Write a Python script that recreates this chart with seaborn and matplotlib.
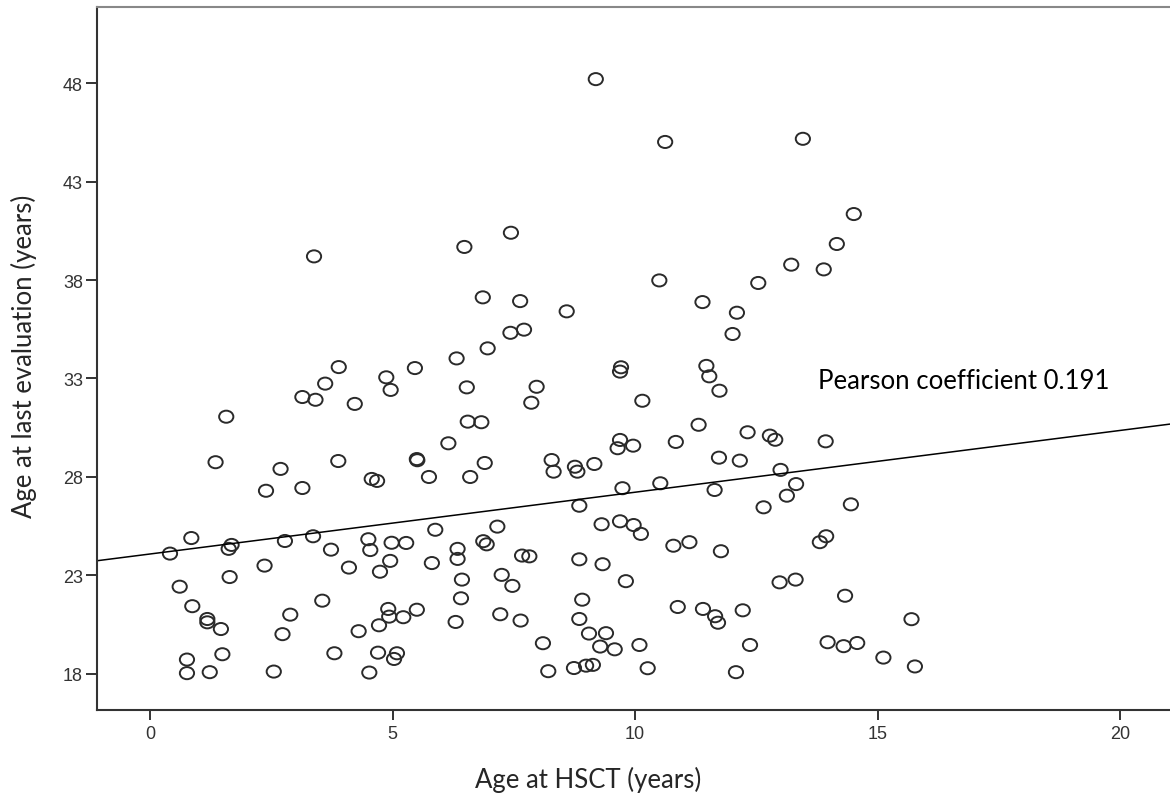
import numpy as np
import pandas as pd
import matplotlib
matplotlib.use("Agg")
import matplotlib.pyplot as plt
import seaborn as sns
from matplotlib.path import Path

# values
age_hsct = [3.38, 3.89, 9.19, 7.44, 6.48, 6.86, 7.63, 8.59, 7.43, 7.71,
            6.96, 6.32, 5.46, 9.71, 9.69, 10.62, 13.46, 14.51, 14.16, 13.22,
            13.89, 10.50, 12.54, 11.39, 12.10, 12.01, 11.47, 11.53, 11.74, 3.61,
            3.14, 3.41, 4.22, 1.57, 4.87, 4.96, 6.53, 7.97, 7.86, 10.15,
            1.35, 2.69, 3.88, 2.39, 3.14, 4.57, 4.68, 6.55, 6.83, 6.15,
            5.50, 5.51, 6.90, 5.75, 6.60, 8.28, 8.32, 8.76, 8.81, 9.16,
            9.69, 9.64, 9.96, 9.74, 8.85, 11.31, 10.84, 12.32, 12.78, 12.89,
            13.93, 11.73, 12.16, 13.00, 10.52, 11.64, 13.32, 13.13, 12.65, 14.45,
            0.85, 0.41, 1.62, 1.68, 2.78, 3.36, 3.73, 4.50, 4.54, 2.36,
            4.10, 1.64, 4.74, 0.61, 0.87, 1.18, 1.18, 1.46, 2.89, 3.55,
            2.73, 4.30, 4.72, 0.76, 1.49, 3.80, 4.70, 0.76, 1.23, 2.55,
            4.52, 4.98, 5.28, 5.88, 7.16, 6.87, 6.94, 6.34, 6.34, 4.95,
            5.81, 7.67, 7.82, 7.25, 7.47, 6.43, 6.41, 8.85, 9.33, 9.81,
            9.31, 9.69, 9.97, 10.12, 4.91, 4.93, 5.22, 5.50, 6.30, 7.22,
            7.64, 8.91, 8.85, 9.05, 9.40, 9.28, 9.58, 10.09, 8.10, 5.09,
            5.03, 8.21, 8.74, 8.99, 9.13, 10.26, 10.79, 11.12, 11.77, 13.81,
            13.94, 12.98, 13.31, 14.33, 10.88, 11.40, 11.65, 11.71, 12.22, 15.70,
            12.37, 13.97, 14.30, 14.58, 15.12, 12.08, 15.77]
age_last = [39.20, 33.58, 48.20, 40.40, 39.68, 37.12, 36.93, 36.41, 35.32, 35.48,
            34.53, 34.02, 33.53, 33.57, 33.35, 45.01, 45.17, 41.35, 39.83, 38.78,
            38.54, 37.98, 37.85, 36.88, 36.34, 35.26, 33.64, 33.11, 32.38, 32.74,
            32.06, 31.92, 31.71, 31.06, 33.06, 32.42, 32.55, 32.58, 31.77, 31.87,
            28.75, 28.41, 28.81, 27.30, 27.44, 27.90, 27.80, 30.81, 30.78, 29.71,
            28.91, 28.85, 28.71, 28.00, 28.00, 28.86, 28.27, 28.52, 28.27, 28.66,
            29.88, 29.46, 29.59, 27.43, 26.54, 30.65, 29.78, 30.27, 30.10, 29.89,
            29.81, 28.98, 28.83, 28.36, 27.68, 27.34, 27.64, 27.05, 26.46, 26.61,
            24.90, 24.11, 24.35, 24.55, 24.75, 24.99, 24.31, 24.84, 24.29, 23.50,
            23.40, 22.92, 23.19, 22.43, 21.44, 20.79, 20.62, 20.28, 21.01, 21.72,
            20.02, 20.17, 20.47, 18.73, 19.00, 19.05, 19.08, 18.04, 18.09, 18.12,
            18.07, 24.66, 24.65, 25.32, 25.48, 24.74, 24.58, 24.35, 23.84, 23.74,
            23.63, 24.01, 23.97, 23.03, 22.47, 22.79, 21.84, 23.82, 23.57, 22.71,
            25.60, 25.75, 25.56, 25.11, 21.30, 20.91, 20.88, 21.26, 20.64, 21.03,
            20.71, 21.77, 20.79, 20.05, 20.07, 19.39, 19.25, 19.47, 19.56, 19.05,
            18.76, 18.14, 18.30, 18.42, 18.46, 18.29, 24.51, 24.69, 24.23, 24.69,
            24.99, 22.65, 22.79, 21.97, 21.40, 21.30, 20.93, 20.60, 21.23, 20.78,
            19.47, 19.61, 19.41, 19.57, 18.83, 18.09, 18.38]

# fitted line as drawn in the reference
fit_intercept = 24.09
fit_slope = 0.3136
pearson_text = "Pearson coefficient 0.191"

x_ticks = [0, 5, 10, 15, 20]
y_ticks = [18, 23, 28, 33, 38, 43, 48]

df = pd.DataFrame({"hsct": age_hsct, "last": age_last})

sns.set_theme(style="white")
plt.rcParams["font.family"] = ["Liberation Sans", "DejaVu Sans"]
label_font = ["Lato", "DejaVu Sans"]

fig = plt.figure(figsize=(11.7, 8.04), dpi=100)
ax = fig.add_axes([0.0827, 0.1157, 0.9173, 0.8743])

# slightly flattened open circle, like the SPSS marker
circ = Path.unit_circle()
oval = Path(circ.vertices * np.array([1.0, 0.85]), circ.codes)

sns.scatterplot(data=df, x="hsct", y="last", ax=ax, marker=oval, s=105,
                facecolor="none", edgecolor="#2a2a2a", linewidth=1.4)

ax.set_xlim(-1.1, 21.03)
ax.set_ylim(16.17, 51.86)
ax.axline((0, fit_intercept), slope=fit_slope, color="black", lw=1.1)

ax.text(13.77, 32.5, pearson_text, fontsize=18.5, family=label_font,
        va="baseline", ha="left", color="black")

ax.set_xticks(x_ticks)
ax.set_yticks(y_ticks)
ax.tick_params(axis="both", labelsize=13, labelcolor="#333333", color="#333333",
               width=1.4, direction="out", bottom=True, left=True)
ax.tick_params(axis="x", length=7, pad=4)
ax.tick_params(axis="y", length=8, pad=2)

ax.set_xlabel("Age at HSCT (years)", fontsize=18.5, family=label_font)
ax.set_ylabel("Age at last evaluation (years)", fontsize=18.5, family=label_font)
ax.xaxis.set_label_coords(0.458, -0.08)
ax.yaxis.set_label_coords(-0.0555, 0.504)

for side in ["left", "bottom"]:
    ax.spines[side].set_color("#333333")
    ax.spines[side].set_linewidth(1.5)
ax.spines["top"].set_color("#888888")
ax.spines["top"].set_linewidth(1.5)
ax.spines["right"].set_visible(False)

fig.savefig("out.png", dpi=100)
